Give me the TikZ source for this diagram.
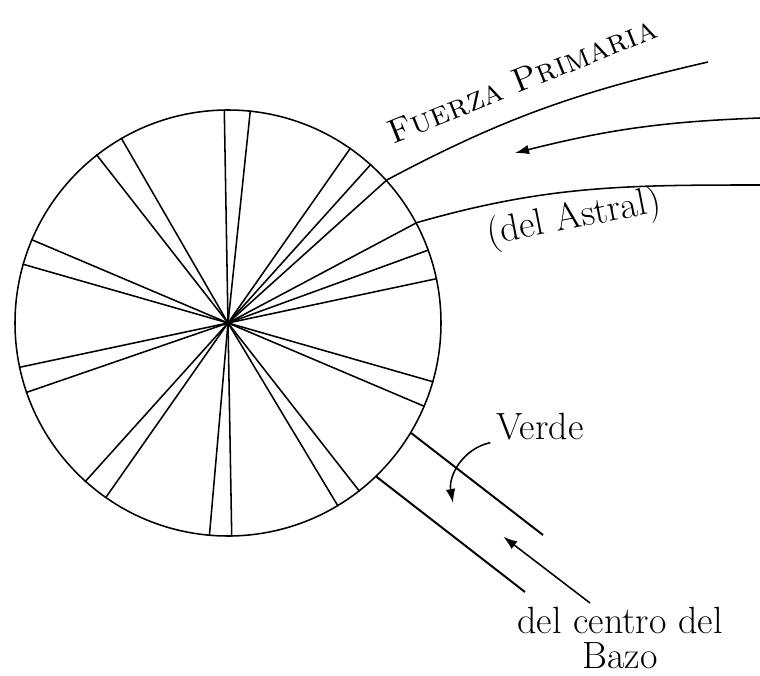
\documentclass[tikz,border=0pt]{standalone}
\usetikzlibrary{arrows.meta}
\begin{document}
\begin{tikzpicture}[line width=1.1pt,
  lettering/.style={font=\fontsize{24}{27}\selectfont, inner sep=1pt},
  bigletters/.style={font=\fontsize{27}{25}\selectfont, inner sep=1pt},
  flow/.style={-{Latex[length=3.5mm,width=2.4mm]}},
  tube/.style={line width=1.4pt}]
\useasboundingbox (0,0) rectangle (19,16.875);

\node[draw, circle, minimum size=10.65cm, inner sep=0pt] (wheel) at (5.7,8.8) {};
\foreach \a in {84.6,91.6,120.8,128.5,157.5,164.8,192.6,199.5,228.3,235.5,265,271.6,301,308.4,337,344,12.4,20.2,28.8,42.2,48.3,55.9}
  \draw (wheel.center) -- (wheel.\a);

\coordinate (primEnd) at (17.7,15.325);
\coordinate (astralEnd) at (19,12.25);
\coordinate (astralIn) at (19,13.925);
\coordinate (astralTip) at (12.875,13.05);
\draw (wheel.42.2) to[out=28,in=193] (primEnd);
\draw (wheel.28.8) to[out=16,in=180] (astralEnd);
\draw[flow] (astralIn) to[bend right=6] (astralTip);

\node[lettering, rotate=22] (fuerza) at (13.05,14.875) {\textsc{Fuerza Primaria}};
\node[bigletters, rotate=11] (astral) at (14.35,11.4) {(del Astral)};

\coordinate (tubeTopEnd) at (13.575,3.5);
\coordinate (tubeLowEnd) at (13.125,2.075);
\draw[tube] (wheel.-31) -- (tubeTopEnd);
\draw[tube] (wheel.-46) -- (tubeLowEnd);

\node[bigletters] (verde) at (13.5,6.2) {Verde};
\coordinate (verdeTip) at (11.325,4.3);
\draw[flow] ([xshift=-1mm]verde.south west) to[out=192,in=100] (verdeTip);

\node[bigletters, align=center, anchor=north] (bazo) at (15.5,1.76) {del centro del\\ Bazo};
\coordinate (bazoTail) at (14.75,1.8);
\coordinate (bazoTip) at (12.583,3.458);
\draw[flow] (bazoTail) -- (bazoTip);
\end{tikzpicture}
\end{document}
